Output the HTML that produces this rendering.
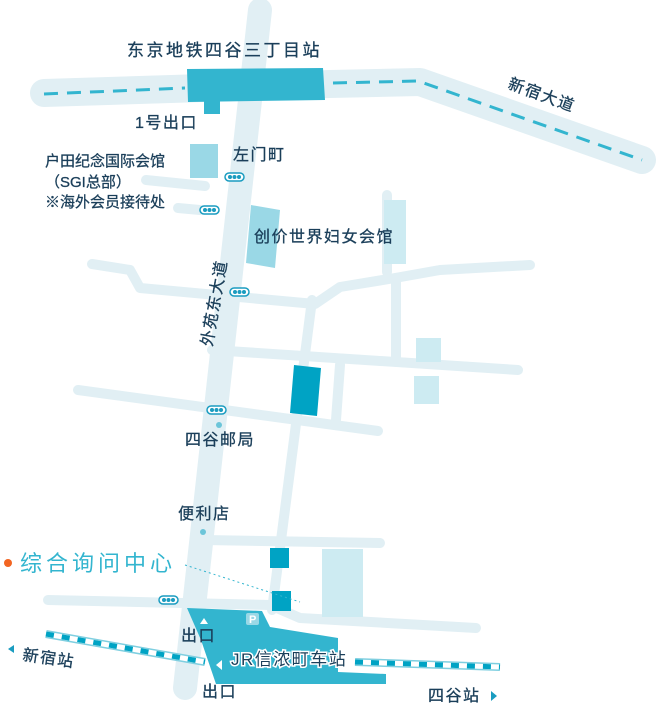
<!DOCTYPE html>
<html><head><meta charset="utf-8"><style>
body{margin:0;background:#fff}
svg{display:block}
text{font-family:"Liberation Sans","Noto Sans CJK SC",sans-serif;fill:#1b3f5a}
</style></head><body>
<svg width="660" height="705" viewBox="0 0 660 705" xmlns="http://www.w3.org/2000/svg">
<g stroke="#e1eff4" fill="none" stroke-linecap="round" stroke-linejoin="round">
<path d="M260 10 L185 688" stroke-width="24"/>
<path d="M44 93 L330 84 L420 82 L642 160" stroke-width="28"/>
<g stroke-width="10">
<path d="M146 180 L205 186"/>
<path d="M178 208 L200 210"/>
<path d="M92 264 L130 270 L140 288 L315 304 L340 287 L395 278 L440 270 L530 265"/>
<path d="M387 195 L387 272"/>
<path d="M396 278 L396 362"/>
<path d="M212 350 L518 370"/>
<path d="M78 390 L378 431"/>
<path d="M312 300 L272 610"/>
<path d="M340 365 L336 420"/>
<path d="M205 540 L380 543"/>
<path d="M48 600 L270 605 L300 618 L476 628"/>
</g>
</g>
<path d="M44 94 L185 88" stroke="#33b5cf" stroke-width="3" stroke-dasharray="14 9" fill="none"/>
<path d="M333 83 L418 81 L642 160" stroke="#33b5cf" stroke-width="3" stroke-dasharray="14 9" fill="none"/>
<polygon points="187,69 323,68 325,100 188,102" fill="#33b5cf"/>
<rect x="204" y="100" width="16" height="14" fill="#33b5cf"/>
<rect x="190" y="144" width="28" height="34" fill="#9ad8e6"/>
<polygon points="251,205 280,210 275,268 246,263" fill="#9ad8e6"/>
<rect x="384" y="200" width="22" height="64" fill="#cdebf2"/>
<rect x="416" y="338" width="25" height="24" fill="#cdebf2"/>
<rect x="414" y="376" width="25" height="28" fill="#cdebf2"/>
<rect x="322" y="549" width="41" height="68" fill="#cdebf2"/>
<polygon points="294,365 321,368 317,416 290,413" fill="#00a3c4"/>
<rect x="270" y="548" width="19" height="20" fill="#00a3c4"/>
<rect x="272" y="591" width="19" height="20" fill="#00a3c4"/>
<g>
<path d="M46 634 L205 662" stroke="#7fcfe0" stroke-width="8" fill="none"/>
<path d="M46 634 L205 662" stroke="#fff" stroke-width="5" fill="none"/>
<path d="M46 634 L205 662" stroke="#00a3c4" stroke-width="5" stroke-dasharray="8 8" fill="none"/>
<path d="M355 662 L500 667" stroke="#7fcfe0" stroke-width="8" fill="none"/>
<path d="M355 662 L500 667" stroke="#fff" stroke-width="5" fill="none"/>
<path d="M355 662 L500 667" stroke="#00a3c4" stroke-width="5" stroke-dasharray="8 8" fill="none"/>
</g>
<polygon points="187,608 262,611 270,627 338,638 338,672 386,674 386,684 216,684 201,640" fill="#33b5cf"/>
<rect x="246" y="613" width="13" height="12" rx="2" fill="#9ad8e6"/>
<text x="249" y="623" font-size="11" font-weight="bold" style="fill:#fff">P</text>
<polygon points="200,624 204,618 208,624" fill="#fff"/>
<polygon points="216,665 222,660 222,670" fill="#fff"/>
<g fill="#fff" stroke="#1a9cc0" stroke-width="1.5">
<rect x="225" y="173" width="19" height="8" rx="4"/>
<rect x="200" y="206" width="19" height="8" rx="4"/>
<rect x="230" y="288" width="19" height="8" rx="4"/>
<rect x="207" y="406" width="19" height="8" rx="4"/>
<rect x="159" y="596" width="19" height="8" rx="4"/>
</g>
<g fill="#1a9cc0">
<circle cx="230" cy="177" r="2"/><circle cx="234.5" cy="177" r="2"/><circle cx="239" cy="177" r="2"/>
<circle cx="205" cy="210" r="2"/><circle cx="209.5" cy="210" r="2"/><circle cx="214" cy="210" r="2"/>
<circle cx="235" cy="292" r="2"/><circle cx="239.5" cy="292" r="2"/><circle cx="244" cy="292" r="2"/>
<circle cx="212" cy="410" r="2"/><circle cx="216.5" cy="410" r="2"/><circle cx="221" cy="410" r="2"/>
<circle cx="164" cy="600" r="2"/><circle cx="168.5" cy="600" r="2"/><circle cx="173" cy="600" r="2"/>
</g>
<circle cx="219" cy="425" r="3" fill="#6cc5d9"/>
<circle cx="203" cy="532" r="3" fill="#6cc5d9"/>
<path d="M185 565 L300 602" stroke="#33b5cf" stroke-width="1" stroke-dasharray="2 3"/>
<circle cx="8" cy="563" r="4" fill="#f26522"/>
<g font-size="16" letter-spacing="1.5" stroke="#1b3f5a" stroke-width="0.3">
<text x="127" y="56" font-size="17" letter-spacing="2.5">东京地铁四谷三丁目站</text>
<text x="135" y="128">1号出口</text>
<text x="45" y="166" font-size="15" letter-spacing="0">户田纪念国际会馆</text>
<text x="45" y="187" font-size="15" letter-spacing="0">（SGI总部）</text>
<text x="45" y="207" font-size="15" letter-spacing="0">※海外会员接待处</text>
<text x="233" y="160">左门町</text>
<text x="254" y="242">创价世界妇女会馆</text>
<text x="185" y="445">四谷邮局</text>
<text x="178" y="519">便利店</text>
<text x="181" y="641">出口</text>
<text x="202" y="697">出口</text>
<text x="22" y="660" transform="rotate(8 22 660)">新宿站</text>
<text x="428" y="701">四谷站</text>
<text x="507" y="88" transform="rotate(20 507 88)">新宿大道</text>
<text x="0" y="0" transform="translate(212 347) rotate(-80)">外苑东大道</text>
</g>
<text x="231" y="665" font-size="17" letter-spacing="1.5" stroke="#fff" stroke-width="3" paint-order="stroke">JR信浓町车站</text>
<text x="20" y="571" font-size="22" letter-spacing="4" style="fill:#33b5cf">综合询问中心</text>
<polygon points="8,649 14,645 14,653" fill="#1a9cc0"/>
<polygon points="491,691 497,696 491,701" fill="#1a9cc0"/>
</svg>
</body></html>
